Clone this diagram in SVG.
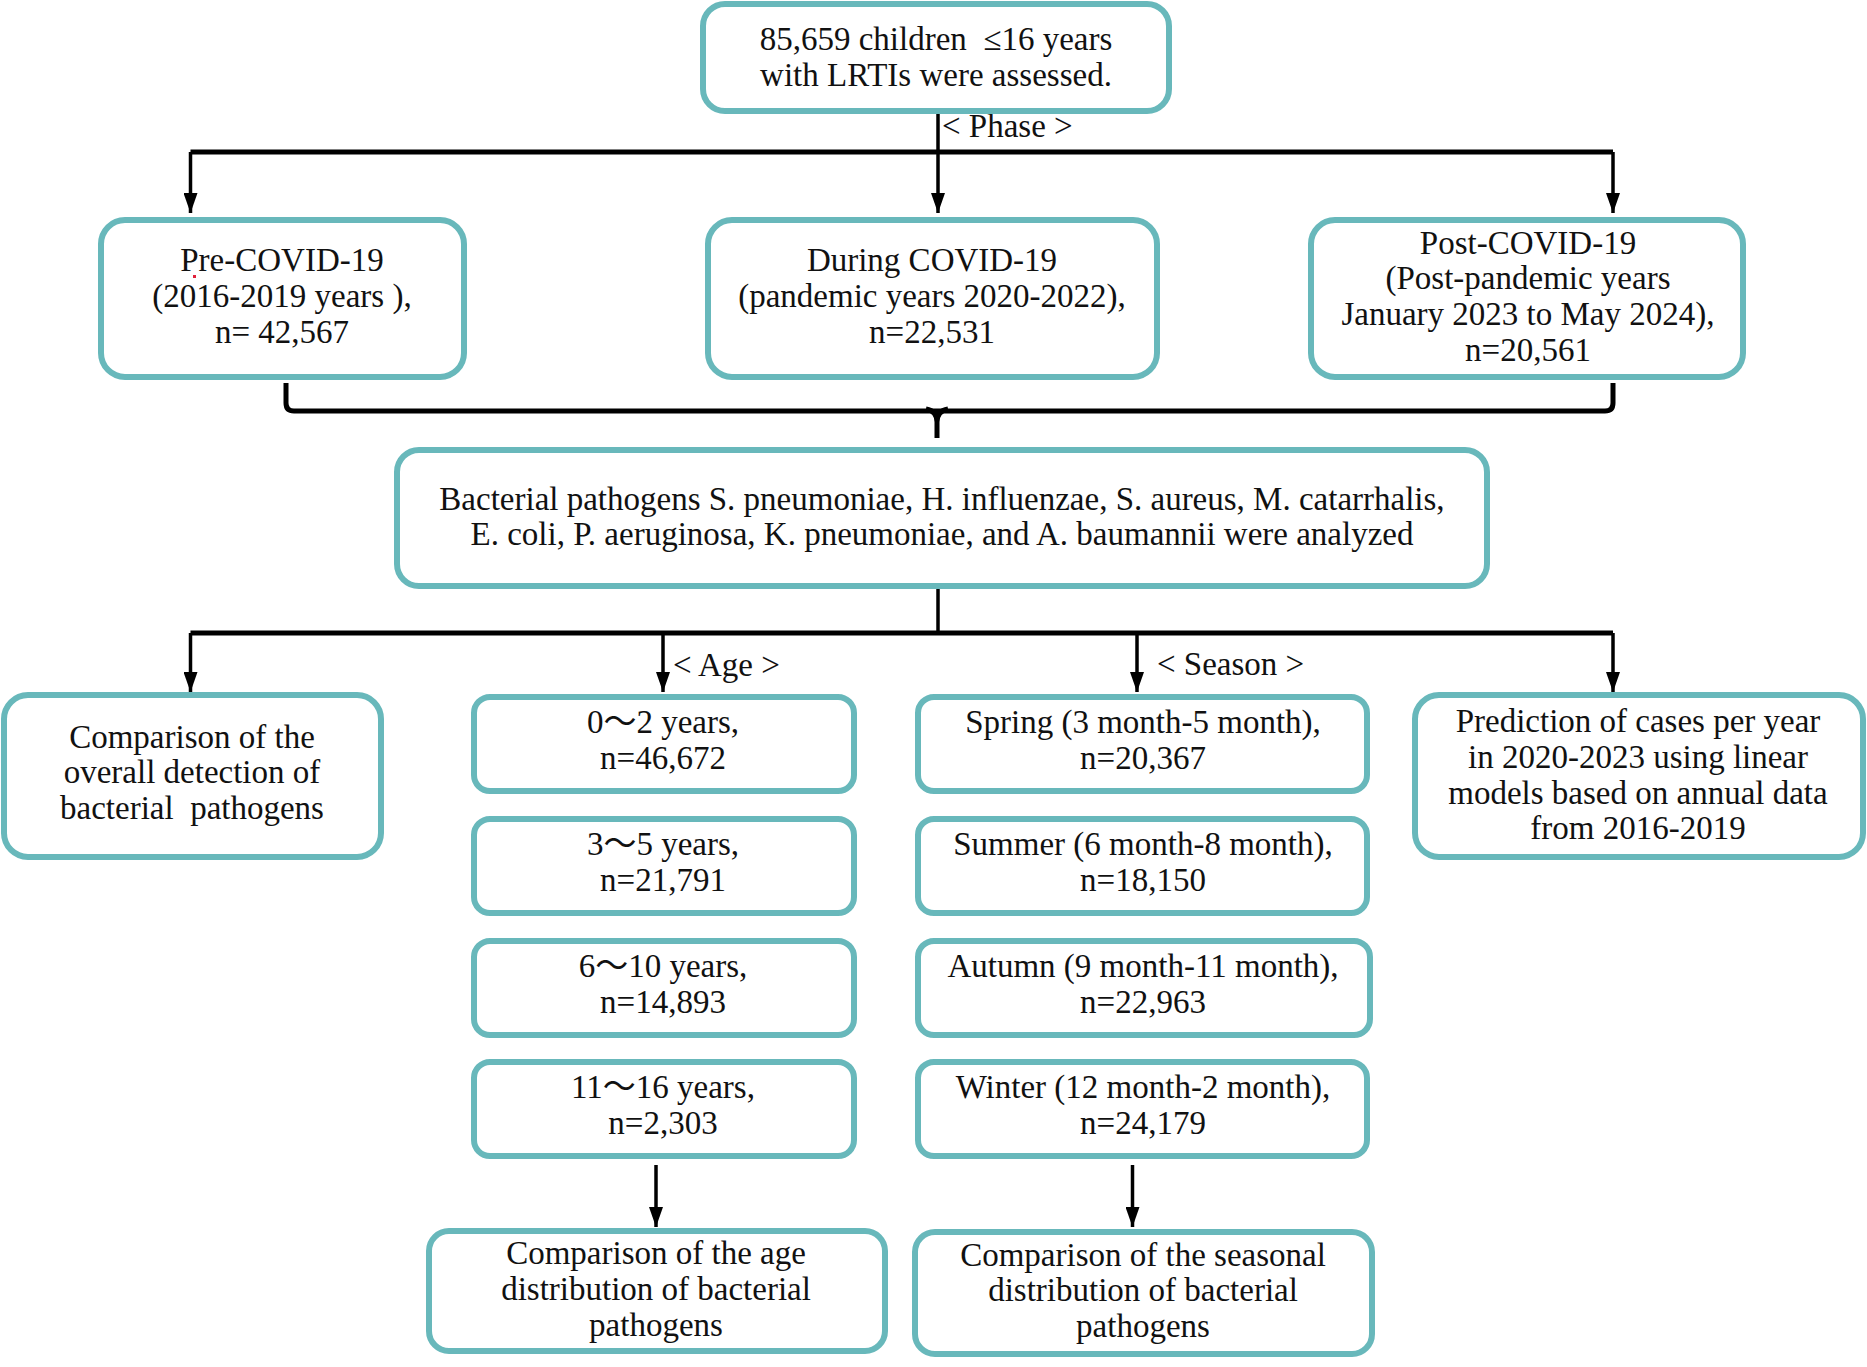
<svg xmlns="http://www.w3.org/2000/svg" width="1867" height="1367" viewBox="0 0 1867 1367">
<defs>
<style>
.box{fill:#ffffff;stroke:#68b8bb;stroke-width:6}
.t{font-family:"Liberation Serif","Times New Roman","Noto Sans CJK SC",serif;font-size:33px;fill:#111111;text-anchor:middle;white-space:pre}
.lbl{font-family:"Liberation Serif","Times New Roman",serif;font-size:33px;fill:#111111;white-space:pre}
.c{fill:none;stroke:#000000;stroke-width:3.5}
.h{fill:none;stroke:#000000;stroke-width:5}
</style>
<marker id="ah" viewBox="0 0 20 14" refX="20" refY="7" markerWidth="20" markerHeight="14" orient="auto" markerUnits="userSpaceOnUse">
<path d="M0,0 L20,7 L0,14 z" fill="#000000"/>
</marker>
</defs>
<rect width="1867" height="1367" fill="#ffffff"/>

<g id="connectors">
<path class="c" d="M938,111 V213" marker-end="url(#ah)"/>
<path class="h" d="M190.5,152 H1613"/>
<path class="c" d="M190.5,152 V213" marker-end="url(#ah)"/>
<path class="c" d="M1613,152 V213" marker-end="url(#ah)"/>
<path class="h" d="M286,383 V403 Q286,411 294,411 H1605 Q1613,411 1613,403 V383"/>
<path class="h" d="M926,409 Q937,411 937,422 V438 M948,409 Q937,411 937,422"/>
<path class="c" d="M938,586 V633"/>
<path class="h" d="M190.5,633 H1613"/>
<path class="c" d="M190.5,633 V692" marker-end="url(#ah)"/>
<path class="c" d="M663,633 V692" marker-end="url(#ah)"/>
<path class="c" d="M1137,633 V692" marker-end="url(#ah)"/>
<path class="c" d="M1613,633 V692" marker-end="url(#ah)"/>
<path class="c" d="M656,1165 V1227" marker-end="url(#ah)"/>
<path class="c" d="M1132.5,1165 V1227" marker-end="url(#ah)"/>
<text class="lbl" x="942" y="137">&lt; Phase &gt;</text>
<text class="lbl" x="673" y="676">&lt; Age &gt;</text>
<text class="lbl" x="1157" y="675">&lt; Season &gt;</text>
</g>

<g id="n-top">
<rect class="box" x="703" y="4" width="466" height="107" rx="22"/>
<text class="t" x="936" y="50">85,659 children  ≤16 years</text>
<text class="t" x="936" y="86">with LRTIs were assessed.</text>
</g>

<g id="n-pre">
<rect class="box" x="101" y="220" width="363" height="157" rx="24"/>
<text class="t" x="282" y="271">Pre-COVID-19</text>
<text class="t" x="282" y="307">(2016-2019 years ),</text>
<text class="t" x="282" y="343">n= 42,567</text>
<rect x="193" y="275" width="3" height="3" fill="#e0203a"/>
</g>

<g id="n-during">
<rect class="box" x="708" y="220" width="449" height="157" rx="24"/>
<text class="t" x="932" y="271">During COVID-19</text>
<text class="t" x="932" y="307">(pandemic years 2020-2022),</text>
<text class="t" x="932" y="343">n=22,531</text>
</g>

<g id="n-post">
<rect class="box" x="1311" y="220" width="432" height="157" rx="24"/>
<text class="t" x="1528" y="254">Post-COVID-19</text>
<text class="t" x="1528" y="289">(Post-pandemic years</text>
<text class="t" x="1528" y="325">January 2023 to May 2024),</text>
<text class="t" x="1528" y="361">n=20,561</text>
</g>

<g id="n-bacteria">
<rect class="box" x="397" y="450" width="1090" height="136" rx="22"/>
<text class="t" x="942" y="510">Bacterial pathogens S. pneumoniae, H. influenzae, S. aureus, M. catarrhalis,</text>
<text class="t" x="942" y="545">E. coli, P. aeruginosa, K. pneumoniae, and A. baumannii were analyzed</text>
</g>

<g id="n-overall">
<rect class="box" x="4" y="695" width="377" height="162" rx="24"/>
<text class="t" x="192" y="748">Comparison of the</text>
<text class="t" x="192" y="783">overall detection of</text>
<text class="t" x="192" y="819">bacterial  pathogens</text>
</g>

<g id="n-age1">
<rect class="box" x="474" y="697" width="380" height="94" rx="16"/>
<text class="t" x="663" y="733">0～2 years,</text>
<text class="t" x="663" y="769">n=46,672</text>
</g>
<g id="n-age2">
<rect class="box" x="474" y="819" width="380" height="94" rx="16"/>
<text class="t" x="663" y="855">3～5 years,</text>
<text class="t" x="663" y="891">n=21,791</text>
</g>
<g id="n-age3">
<rect class="box" x="474" y="941" width="380" height="94" rx="16"/>
<text class="t" x="663" y="977">6～10 years,</text>
<text class="t" x="663" y="1013">n=14,893</text>
</g>
<g id="n-age4">
<rect class="box" x="474" y="1062" width="380" height="94" rx="16"/>
<text class="t" x="663" y="1098">11～16 years,</text>
<text class="t" x="663" y="1134">n=2,303</text>
</g>

<g id="n-spring">
<rect class="box" x="918" y="697" width="449" height="94" rx="16"/>
<text class="t" x="1143" y="733">Spring (3 month-5 month),</text>
<text class="t" x="1143" y="769">n=20,367</text>
</g>
<g id="n-summer">
<rect class="box" x="918" y="819" width="449" height="94" rx="16"/>
<text class="t" x="1143" y="855">Summer (6 month-8 month),</text>
<text class="t" x="1143" y="891">n=18,150</text>
</g>
<g id="n-autumn">
<rect class="box" x="918" y="941" width="452" height="94" rx="16"/>
<text class="t" x="1143" y="977">Autumn (9 month-11 month),</text>
<text class="t" x="1143" y="1013">n=22,963</text>
</g>
<g id="n-winter">
<rect class="box" x="918" y="1062" width="449" height="94" rx="16"/>
<text class="t" x="1143" y="1098">Winter (12 month-2 month),</text>
<text class="t" x="1143" y="1134">n=24,179</text>
</g>

<g id="n-predict">
<rect class="box" x="1415" y="695" width="448" height="162" rx="24"/>
<text class="t" x="1638" y="732">Prediction of cases per year</text>
<text class="t" x="1638" y="768">in 2020-2023 using linear</text>
<text class="t" x="1638" y="804">models based on annual data</text>
<text class="t" x="1638" y="839">from 2016-2019</text>
</g>

<g id="n-agecomp">
<rect class="box" x="429" y="1231" width="456" height="120" rx="20"/>
<text class="t" x="656" y="1264">Comparison of the age</text>
<text class="t" x="656" y="1300">distribution of bacterial</text>
<text class="t" x="656" y="1336">pathogens</text>
</g>

<g id="n-seasoncomp">
<rect class="box" x="915" y="1232" width="457" height="122" rx="20"/>
<text class="t" x="1143" y="1266">Comparison of the seasonal</text>
<text class="t" x="1143" y="1301">distribution of bacterial</text>
<text class="t" x="1143" y="1337">pathogens</text>
</g>
</svg>
